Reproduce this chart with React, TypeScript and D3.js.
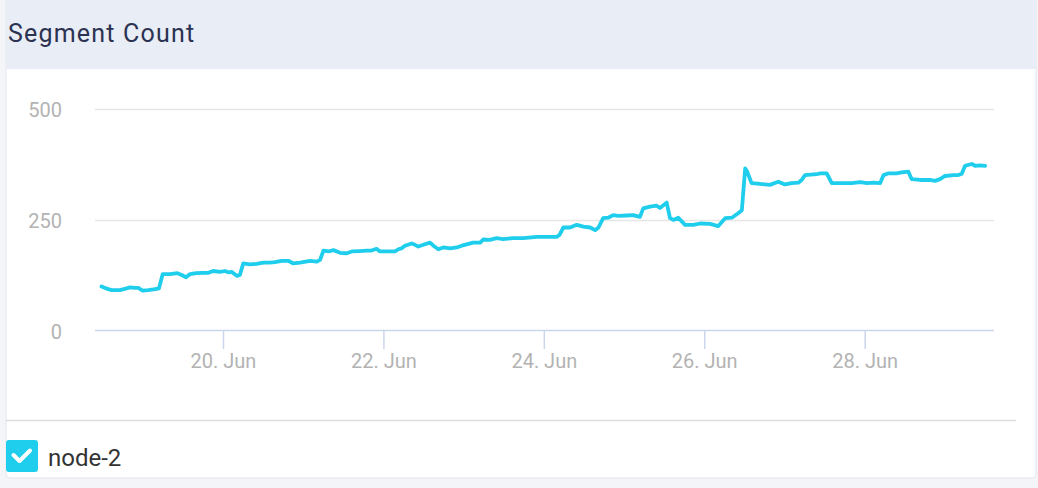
import React from "react";
import * as d3 from "d3";

const title = "Segment Count";
const seriesName = "node-2";
// hours since 18 Jun 00:00
const hours = [11.5, 12.8, 14.5, 17.0, 19.0, 20.0, 21.5, 22.5, 23.8, 25.5, 27.5, 28.7, 29.8, 32.0, 34.2, 35.5, 36.8, 38.0, 39.8, 42.0, 43.5, 44.9, 47.0, 48.4, 49.4, 50.5, 52.0, 52.9, 53.9, 55.9, 57.9, 59.9, 61.9, 63.4, 65.4, 67.4, 68.9, 70.9, 73.9, 75.9, 76.9, 77.9, 79.4, 80.9, 82.9, 84.9, 86.4, 88.8, 90.8, 92.3, 93.8, 94.8, 97.8, 99.3, 100.3, 101.3, 102.3, 104.3, 105.3, 106.3, 107.8, 109.8, 110.8, 112.3, 113.8, 115.8, 117.8, 119.3, 121.3, 122.7, 124.8, 125.7, 127.7, 129.7, 131.7, 134.7, 137.7, 141.7, 144.7, 147.7, 148.5, 149.7, 151.7, 153.7, 155.7, 157.7, 159.2, 160.2, 161.6, 163.1, 164.6, 166.1, 168.6, 170.6, 172.6, 173.6, 175.6, 177.6, 178.6, 180.6, 181.6, 182.6, 184.1, 186.1, 188.6, 190.6, 193.6, 196.0, 198.1, 200.1, 202.0, 203.1, 204.1, 204.7, 206.0, 208.5, 211.5, 214.0, 216.0, 218.0, 220.0, 221.0, 222.0, 225.5, 226.5, 228.5, 230.0, 233.0, 236.0, 238.5, 240.5, 242.5, 244.5, 245.5, 247.0, 249.4, 250.9, 252.9, 253.9, 256.4, 259.4, 260.9, 262.4, 263.9, 266.4, 267.9, 268.9, 269.9, 271.9, 272.9, 274.4, 275.9];
const values = [99, 95, 91, 91, 95, 97, 96, 96, 90, 91, 93, 95, 127, 127, 129, 125, 120, 127, 129, 130, 130, 134, 132, 134, 131, 132, 123, 125, 151, 149, 150, 153, 153, 154, 157, 157, 151, 153, 157, 155, 159, 180, 178, 181, 175, 174, 178, 179, 180, 180, 184, 178, 178, 178, 183, 185, 191, 196, 193, 189, 193, 198, 191, 183, 187, 185, 187, 191, 195, 198, 198, 205, 204, 208, 206, 208, 208, 211, 211, 211, 215, 232, 232, 238, 234, 232, 226, 232, 253, 254, 260, 258, 259, 260, 256, 275, 279, 281, 276, 288, 253, 249, 254, 238, 238, 241, 240, 235, 253, 254, 264, 271, 365, 358, 332, 330, 328, 335, 329, 332, 333, 339, 350, 352, 354, 354, 332, 332, 332, 334, 332, 333, 332, 350, 354, 354, 356, 358, 341, 339, 339, 337, 341, 348, 350, 350, 353, 371, 375, 371, 372, 371];
const yTicks = [0, 250, 500];
const xTickDays = [20, 22, 24, 26, 28];
const monthName = "Jun";

const W = 1038;
const H = 488;
const FONT = "Roboto, 'Noto Sans', sans-serif";

export default function App() {
  const base = new Date(2019, 5, 18).getTime();
  const toDate = (h: number) => new Date(base + h * 3600 * 1000);
  const x = d3.scaleTime().domain([toDate(9.55), toDate(278.55)]).range([95, 994]);
  const y = d3.scaleLinear().domain([0, 500]).range([330.5, 108.5]);
  const pts = hours.map((h, i) => [toDate(h), values[i]] as [Date, number]);
  const line = d3.line<[Date, number]>().x((d) => x(d[0])).y((d) => y(d[1]));
  const xTicks = xTickDays.map((d) => new Date(2019, 5, d));
  const fmt = d3.timeFormat("%-d");

  return (
    <svg width={W} height={H} style={{ position: "absolute", left: 0, top: 0, fontFamily: FONT }}>
      <rect x={0} y={0} width={W} height={H} fill="#f4f5f9" />
      <rect x={6} y={-6} width={1030} height={484} rx={4} fill="#ffffff" stroke="#e4e6ec" strokeWidth={1} />
      <rect x={6} y={0} width={1030} height={69} fill="#e9edf5" />
      <text x={8} y={42} fontSize={25} letterSpacing={1.2} fill="#2b3252">{title}</text>

      {yTicks.filter((t) => t > 0).map((t) => (
        <line key={t} x1={95} x2={994} y1={Math.round(y(t)) + 0.5} y2={Math.round(y(t)) + 0.5} stroke="#e6e6e6" strokeWidth={1.5} />
      ))}
      {yTicks.map((t) => (
        <text key={"yl" + t} x={62} y={y(t) + 8} textAnchor="end" fontSize={20} fill="#b3b3b3">{t}</text>
      ))}
      <line x1={95} x2={994} y1={330.5} y2={330.5} stroke="#ccd6eb" strokeWidth={1.5} />
      {xTicks.map((d, i) => (
        <g key={i}>
          <line x1={x(d)} x2={x(d)} y1={330.5} y2={349} stroke="#ccd6eb" strokeWidth={1.5} />
          <text x={x(d)} y={368} textAnchor="middle" fontSize={20} fill="#b3b3b3">{`${fmt(d)}. ${monthName}`}</text>
        </g>
      ))}

      <path d={line(pts) || ""} fill="none" stroke="#1fcdec" strokeWidth={3.8} strokeLinejoin="round" strokeLinecap="round" />

      <line x1={6} x2={1016} y1={420.5} y2={420.5} stroke="#dddddd" strokeWidth={1.5} />
      <rect x={6} y={440} width={32} height={32} rx={3} fill="#1fcdec" />
      <path d="M13.5,455 L19.5,461 L30,450.5" fill="none" stroke="#ffffff" strokeWidth={4} strokeLinecap="round" strokeLinejoin="round" />
      <text x={48} y={466} fontSize={24} fill="#333333">{seriesName}</text>
    </svg>
  );
}
